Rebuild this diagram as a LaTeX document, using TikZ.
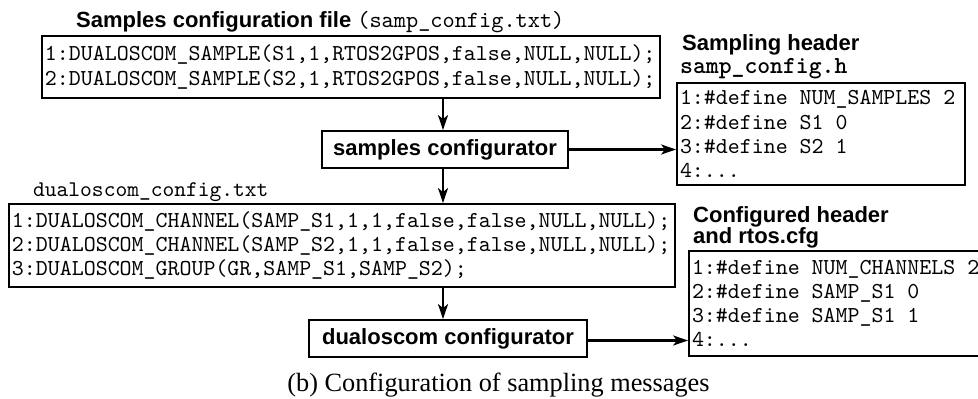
\documentclass[tikz,border=0pt]{standalone}
\usepackage{fontspec}
\setsansfont{Liberation Sans}
\newfontfamily\capfont{Liberation Serif}
\newfontfamily\codett{lmmono10-regular.otf}[BoldFont=lmmonolt10-bold.otf]
\usetikzlibrary{arrows.meta}
% monospaced code text at a given size
\newcommand\codeat[1]{\fontsize{#1}{24.2}\selectfont\codett}
% one full character cell of blank space in code lines
\newcommand\ts{\hspace*{0.525em}}
\newcommand\lblfont{\fontsize{22}{23}\selectfont\sffamily\bfseries}
\begin{document}
\begin{tikzpicture}[x=1pt,y=-1pt,
  codebox/.style={draw,line width=1.8pt,inner xsep=3pt,inner ysep=0pt,align=left,font=\codeat{22.8}},
  tool/.style={draw,line width=1.8pt,inner sep=0pt,minimum height=37pt,font=\lblfont},
  lbl/.style={anchor=base west,inner sep=0pt},
  arr/.style={line width=2.3pt,-{Stealth[length=15pt,width=10pt,inset=4pt]}}]
\clip (0,0) rectangle (978,399);

% input sample definitions
\node[lbl] (sampttl) at (76,27) {\lblfont Samples configuration file {\mdseries\codeat{23.2}(samp\_config.txt)}};
\node[codebox,text width=612pt,minimum height=62pt] (samp) at (351,67)
  {1:DUALOSCOM\_SAMPLE(S1,1,RTOS2GPOS,false,NULL,NULL);\\
   2:DUALOSCOM\_SAMPLE(S2,1,RTOS2GPOS,false,NULL,NULL);};

% first tool and its generated header
\node[tool,minimum width=246pt] (sc) at (445,149.5) {samples configurator};
\node[lbl] (hdrttl) at (682,50) {\lblfont Sampling header};
\node[lbl] (hdrfile) at (680,73) {\codett\fontsize{24.5}{25}\selectfont\bfseries samp\_config.h};
\node[codebox,text width=282pt,minimum height=102pt] (hdr) at (821,134)
  {1:\#define\ts NUM\_SAMPLES\ts 2\\
   2:\#define\ts S1\ts 0\\
   3:\#define\ts S2\ts 1\\
   4:...};

% channel definitions
\node[lbl] (chanttl) at (33,196) {\codeat{22.4}dualoscom\_config.txt};
\node[codebox,text width=660pt,minimum height=83pt] (chan) at (342,245.5)
  {1:DUALOSCOM\_CHANNEL(SAMP\_S1,1,1,false,false,NULL,NULL);\\
   2:DUALOSCOM\_CHANNEL(SAMP\_S2,1,1,false,false,NULL,NULL);\\
   3:DUALOSCOM\_GROUP(GR,SAMP\_S1,SAMP\_S2);};

% second tool and its output
\node[tool,minimum width=278pt] (dc) at (448,338.5) {dualoscom configurator};
\node[lbl] (cfgttl1) at (693,222) {\lblfont Configured header};
\node[lbl] (cfgttl2) at (693,243) {\lblfont and rtos.cfg};
\node[codebox,text width=340pt,minimum height=105pt] (cfg) at (862,303.5)
  {1:\#define\ts NUM\_CHANNELS\ts 2\\
   2:\#define\ts SAMP\_S1\ts 0\\
   3:\#define\ts SAMP\_S1\ts 1\\
   4:...};

% caption
\node[anchor=base,inner sep=0pt] (cap) at (498.5,391)
  {\capfont\fontsize{26.3}{28}\selectfont (b) Configuration of sampling messages};

% flow
\coordinate (spine) at (443,0);
\draw[arr] (spine |- samp.south) -- (spine |- sc.north);
\draw[arr] (spine |- sc.south) -- (spine |- chan.north);
\draw[arr] (spine |- chan.south) -- (spine |- dc.north);
\draw[arr] (sc.east) -- (sc.east -| hdr.west);
\draw[arr] ([yshift=-2pt]dc.east) -- ([yshift=-2pt]dc.east -| cfg.west);
\end{tikzpicture}
\end{document}
